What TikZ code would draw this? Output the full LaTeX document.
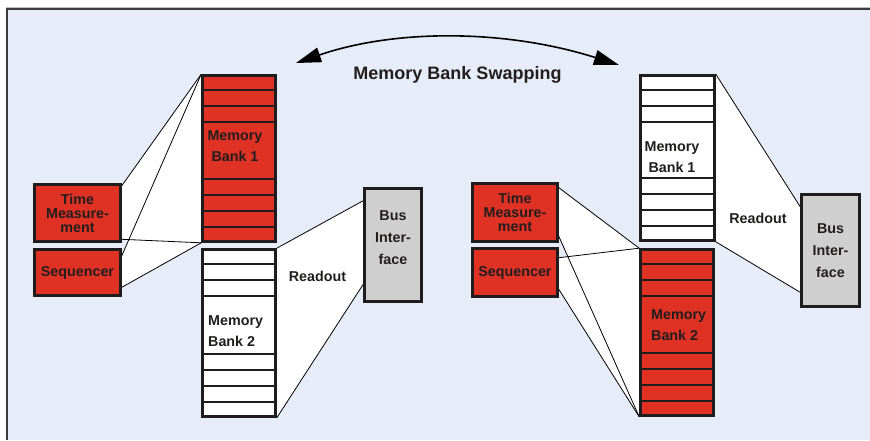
\documentclass[tikz,border=0pt]{standalone}
\usepackage{fontspec}
\setmainfont{Liberation Sans}
\usepackage{xcolor}
\usepackage{tikz}
\usetikzlibrary{arrows.meta}
\usetikzlibrary{backgrounds}

\definecolor{bankred}{RGB}{224,50,36}
\definecolor{panelblue}{RGB}{230,237,248}
\definecolor{busgray}{RGB}{207,207,207}
\definecolor{edgedark}{RGB}{30,28,28}
\definecolor{textdark}{RGB}{34,30,30}
\definecolor{framegray}{RGB}{60,60,64}

\tikzset{
  blockbox/.style={draw=edgedark, line width=2.6pt, inner sep=0pt, align=center, text=textdark,
    font=\fontsize{14.3}{14}\selectfont\bfseries},
  redblock/.style={blockbox, fill=bankred},
  busblock/.style={blockbox, fill=busgray, font=\fontsize{14.3}{22}\selectfont\bfseries},
  bankblock/.style={draw=edgedark, line width=2.6pt, inner sep=0pt},
  rowline/.style={draw=edgedark, line width=1.6pt},
  banklabel/.style={inner sep=0pt, text=textdark, font=\fontsize{14.3}{21}\selectfont\bfseries},
  buslabel/.style={inner sep=0pt, align=center, text=textdark, font=\fontsize{14.3}{22}\selectfont\bfseries},
  plainlabel/.style={inner sep=0pt, text=textdark, font=\fontsize{14.3}{17}\selectfont\bfseries},
  titlelabel/.style={inner sep=0pt, text=textdark, font=\fontsize{18}{20}\selectfont\bfseries},
  fan/.style={fill=white},
  link/.style={draw=black, line width=0.8pt},
  swaparrow/.style={draw=black, line width=1.6pt,
    {Triangle[length=25pt,width=15pt]}-{Triangle[length=25pt,width=15pt]}},
  frameline/.style={draw=framegray, line width=1.6pt}
}

\begin{document}
\begin{tikzpicture}[x=1pt, y=-1pt]
    \useasboundingbox (0,0) rectangle (870,440);
    % Draw the left blocks
    \node[redblock, minimum width=86pt, minimum height=57pt] (tmL) at (77.5,213) {Time\\Measure-\\ment};
    \node[redblock, minimum width=86pt, minimum height=46pt] (seqL) at (77.5,272.5) {Sequencer};
    \node[bankblock, fill=bankred, minimum width=73pt, minimum height=166pt] (bankLa) at (239,158.5) {};
    \node[bankblock, fill=white, minimum width=73pt, minimum height=167pt] (bankLb) at (239,333) {};
    \node[busblock, minimum width=57pt, minimum height=113pt] (busL) at (393,245) {};
    % Draw the right blocks
    \node[redblock, minimum width=85pt, minimum height=58pt] (tmR) at (515,212.5) {Time\\Measure-\\ment};
    \node[redblock, minimum width=85pt, minimum height=48pt] (seqR) at (515,272.5) {Sequencer};
    \node[bankblock, fill=white, minimum width=74pt, minimum height=165pt] (bankRa) at (677.5,158) {};
    \node[bankblock, fill=bankred, minimum width=73pt, minimum height=166pt] (bankRb) at (677,332.5) {};
    \node[busblock, minimum width=58pt, minimum height=112pt] (busR) at (830.5,250.5) {Bus\\Inter-\\face};
    % Draw the memory rows
    \foreach \bank in {bankLa, bankLb, bankRa, bankRb} {
        \foreach \k in {1,2,3}
            \draw[rowline] ([yshift={-16pt*\k}]\bank.north west) -- ([yshift={-16pt*\k}]\bank.north east);
        \foreach \k in {1,...,4}
            \draw[rowline] ([yshift={16pt*\k}]\bank.south west) -- ([yshift={16pt*\k}]\bank.south east);
    }
    % Draw the labels
    \node[buslabel] (busLtext) at ([yshift=7pt]busL.center) {Bus\\Inter-\\face};
    \node[banklabel, align=center] (memLa) at (235,146) {Memory\\Bank 1};
    \node[banklabel, align=left, anchor=west] (memLb) at (208,331) {Memory\\Bank 2};
    \node[banklabel, align=center] (memRa) at (672,157) {Memory\\Bank 1};
    \node[banklabel, align=left, anchor=west] (memRb) at (651,325) {Memory\\Bank 2};
    \node[plainlabel] (readL) at (317.5,276) {Readout};
    \node[plainlabel] (readR) at (758,218) {Readout};
    \node[titlelabel] (swap) at (457.5,75) {Memory Bank Swapping};
    % Draw the swap arrow
    \coordinate (swapL) at (296,63);
    \coordinate (swapR) at (619,65);
    \draw[swaparrow] (swapL) .. controls (395,29) and (505,29) .. (swapR);
    % Fan end points on the blocks
    \coordinate (tmLtop) at ([yshift=-2.5pt]tmL.north east);
    \coordinate (tmLbot) at ([yshift=3.5pt]tmL.south east);
    \coordinate (seqLtop) at ([yshift=-7.5pt]seqL.north east);
    \coordinate (seqLbot) at ([yshift=9.5pt]seqL.south east);
    \coordinate (busLtop) at ([yshift=-13.5pt]busL.north west);
    \coordinate (busLbot) at ([yshift=18.5pt]busL.south west);
    \coordinate (tmRtop) at ([yshift=-5.5pt]tmR.north east);
    \coordinate (tmRbot) at ([yshift=6.5pt]tmR.south east);
    \coordinate (seqRtop) at ([yshift=-10.5pt]seqR.north east);
    \coordinate (seqRbot) at ([yshift=8.5pt]seqR.south east);
    \coordinate (busRtop) at ([yshift=-13.5pt]busR.north west);
    \coordinate (busRbot) at ([yshift=15.5pt]busR.south west);
    % Draw the panel and the fans behind the blocks
    \begin{scope}[on background layer]
        \fill[white] (0,0) rectangle (870,440);
        \fill[panelblue] (7,9) rectangle (870,440);
        \draw[gray!50, line width=1pt] (6,7.5) -- (870,7.5);
        \draw[frameline] (7,440) -- (7,9) -- (870,9);
        \foreach \a/\b/\c/\d in {tmLtop/bankLa.north west/bankLa.south west/tmLbot,
                                 seqLtop/bankLa.north west/bankLa.south west/seqLbot,
                                 bankLb.north east/busLtop/busLbot/bankLb.south east,
                                 tmRtop/bankRb.north west/bankRb.south west/tmRbot,
                                 seqRtop/bankRb.north west/bankRb.south west/seqRbot,
                                 bankRa.north east/busRtop/busRbot/bankRa.south east}
            \fill[fan] (\a) -- (\b) -- (\c) -- (\d) -- cycle;
        \foreach \a/\b/\c/\d in {tmLtop/bankLa.north west/bankLa.south west/tmLbot,
                                 seqLtop/bankLa.north west/bankLa.south west/seqLbot,
                                 bankLb.north east/busLtop/busLbot/bankLb.south east,
                                 tmRtop/bankRb.north west/bankRb.south west/tmRbot,
                                 seqRtop/bankRb.north west/bankRb.south west/seqRbot,
                                 bankRa.north east/busRtop/busRbot/bankRa.south east}
            \draw[link] (\a) -- (\b) (\c) -- (\d);
    \end{scope}
\end{tikzpicture}
\end{document}
